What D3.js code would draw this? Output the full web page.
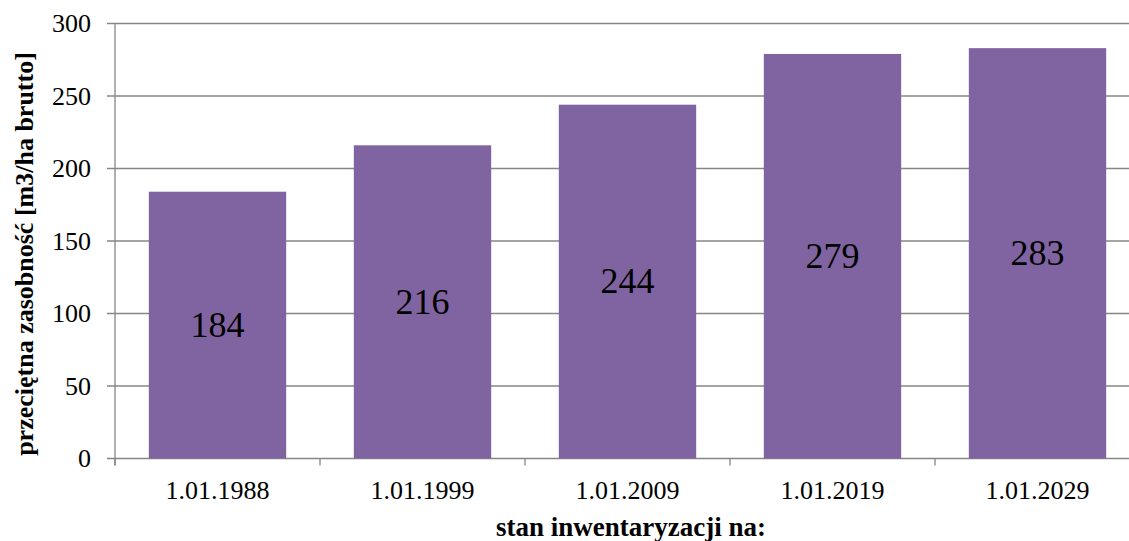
<!DOCTYPE html>
<html>
<head>
<meta charset="utf-8">
<script src="https://cdn.jsdelivr.net/npm/d3@7"></script>
<style>
  body { margin: 0; background: #fff; }
  svg text { font-family: 'Times New Roman', 'Liberation Serif', serif; fill: #000; }
</style>
</head>
<body>
<div class="canva"></div>
<script>
// data
const categories = ['1.01.1988', '1.01.1999', '1.01.2009', '1.01.2019', '1.01.2029'];
const values = [184, 216, 244, 279, 283];
const yTicks = [0, 50, 100, 150, 200, 250, 300];

const width = 1129, height = 541;
const margin = {top: 23.5, right: -11, bottom: 82.5, left: 115};
const graphWidth = width - margin.left - margin.right;
const graphHeight = height - margin.top - margin.bottom;

const svg = d3.select('.canva').append('svg')
    .attr('width', width)
    .attr('height', height);

const graph = svg.append('g')
    .attr('transform', `translate(${margin.left}, ${margin.top})`);

const x = d3.scaleBand()
    .domain(categories)
    .range([0, graphWidth])
    .paddingInner(0.33)
    .paddingOuter(0.165);

const y = d3.scaleLinear()
    .domain([0, 300])
    .range([graphHeight, 0]);

// gridlines
graph.append('g')
    .selectAll('line')
    .data(yTicks)
    .enter().append('line')
    .attr('x1', -8)
    .attr('x2', graphWidth)
    .attr('y1', d => y(d))
    .attr('y2', d => y(d))
    .attr('stroke', '#868686')
    .attr('stroke-width', 1.3);

// y axis line
graph.append('line')
    .attr('x1', 0).attr('x2', 0)
    .attr('y1', 0).attr('y2', graphHeight + 7)
    .attr('stroke', '#868686')
    .attr('stroke-width', 1.3);

// x ticks at band boundaries
graph.append('g')
    .selectAll('line')
    .data(d3.range(categories.length + 1))
    .enter().append('line')
    .attr('x1', i => i * graphWidth / categories.length)
    .attr('x2', i => i * graphWidth / categories.length)
    .attr('y1', graphHeight)
    .attr('y2', graphHeight + 7)
    .attr('stroke', '#868686')
    .attr('stroke-width', 1.3);

// y tick labels
graph.append('g')
    .selectAll('text')
    .data(yTicks)
    .enter().append('text')
    .attr('x', -24)
    .attr('y', d => y(d))
    .attr('dy', '0.33em')
    .attr('text-anchor', 'end')
    .style('font-size', '26px')
    .text(d => d);

// bars
graph.append('g')
    .selectAll('rect')
    .data(values)
    .enter().append('rect')
    .attr('x', (d, i) => x(categories[i]))
    .attr('width', x.bandwidth())
    .attr('y', d => y(d))
    .attr('height', d => graphHeight - y(d))
    .attr('fill', '#8064A2');

// value labels
graph.append('g')
    .selectAll('text')
    .data(values)
    .enter().append('text')
    .attr('x', (d, i) => x(categories[i]) + x.bandwidth() / 2)
    .attr('y', d => (y(d) + graphHeight) / 2)
    .attr('dy', '0.33em')
    .attr('text-anchor', 'middle')
    .style('font-size', '36px')
    .text(d => d);

// category labels
graph.append('g')
    .selectAll('text')
    .data(categories)
    .enter().append('text')
    .attr('x', d => x(d) + x.bandwidth() / 2)
    .attr('y', graphHeight + 40.5)
    .attr('text-anchor', 'middle')
    .style('font-size', '26px')
    .text(d => d);

// axis titles
svg.append('text')
    .attr('x', 631)
    .attr('y', 536)
    .attr('text-anchor', 'middle')
    .style('font-size', '27px')
    .style('font-weight', 'bold')
    .text('stan inwentaryzacji na:');

svg.append('text')
    .attr('transform', 'translate(33, 254) rotate(-90)')
    .attr('text-anchor', 'middle')
    .style('font-size', '26px')
    .style('font-weight', 'bold')
    .text('przeciętna zasobność [m3/ha brutto]');
</script>
</body>
</html>
